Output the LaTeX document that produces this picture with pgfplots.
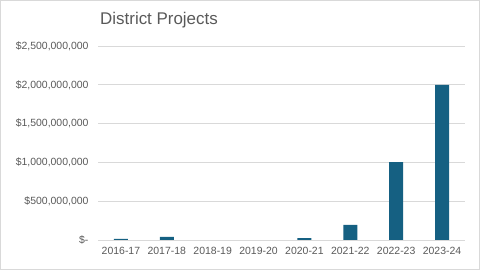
\documentclass[border=0pt]{standalone}
\usepackage{pgfplots}
\pgfplotsset{compat=1.18}
\usepackage{fontspec}
\setmainfont{Liberation Sans}
\definecolor{barc}{HTML}{156082}
\definecolor{txt}{HTML}{595959}
\definecolor{gridc}{HTML}{D9D9D9}
\begin{document}
\begin{tikzpicture}
\path[use as bounding box] (0,0) rectangle (480bp,270bp);
\draw[gridc, line width=0.8bp] (0.4bp,0.4bp) rectangle (479.6bp,269.6bp);
\node[anchor=base west, text=txt, font=\fontsize{17}{19}\selectfont, inner sep=0pt] at (100bp,245bp) {District Projects};
\begin{axis}[
  at={(98bp,30bp)}, anchor=south west,
  scale only axis, width=367bp, height=194bp,
  xmin=-0.5, xmax=7.5, ymin=0, ymax=2500000000,
  xtick={0,...,7},
  xticklabels={2016-17,2017-18,2018-19,2019-20,2020-21,2021-22,2022-23,2023-24},
  ytick={0,500000000,1000000000,1500000000,2000000000,2500000000},
  yticklabels={{\$-\hspace{5bp}},{\$500,000,000},{\$1,000,000,000},{\$1,500,000,000},{\$2,000,000,000},{\$2,500,000,000}},
  scaled y ticks=false,
  ymajorgrids, xmajorgrids=false, grid style={draw=gridc, line width=0.8bp},
  axis line style={draw=none},
  major tick length=0pt,
  tick label style={text=txt, font=\fontsize{10.5}{12}\selectfont},
  yticklabel style={xshift=-6bp},
  xticklabel style={yshift=-4bp},
  clip=false,
]
\draw[gridc, line width=0.8bp] (axis cs:-0.5,0) -- (axis cs:7.5,0);
\addplot[ybar, bar width=14bp, fill=barc, draw=none] coordinates {
(0,15000000) (1,40000000) (4,25000000) (5,195000000) (6,1005000000) (7,2000000000)
};
\end{axis}
\end{tikzpicture}
\end{document}
